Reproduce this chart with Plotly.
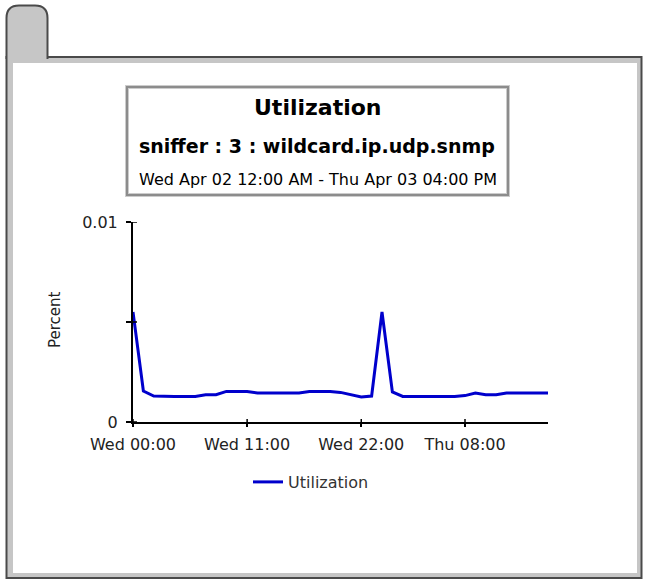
import plotly.graph_objects as go
import pandas as pd

# ---------------- data ----------------
times = pd.date_range("2003-04-02 00:00", periods=41, freq="h")
utilization = [
    0.0055, 0.00155, 0.0013, 0.00128, 0.00128, 0.00128, 0.00128, 0.00136,
    0.00136, 0.00153, 0.00153, 0.00153, 0.00145, 0.00145, 0.00145, 0.00145,
    0.00145, 0.00152, 0.00152, 0.00152, 0.00148, 0.00138, 0.00125, 0.0013,
    0.0055, 0.0015, 0.00128, 0.00128, 0.00128, 0.00128, 0.00128, 0.00128,
    0.00132, 0.00145, 0.00136, 0.00136, 0.00145, 0.00145, 0.00145, 0.00145,
    0.00145,
]
x_tickvals = ["2003-04-02 00:00", "2003-04-02 11:00", "2003-04-02 22:00", "2003-04-03 08:00"]
x_ticktext = ["Wed 00:00", "Wed 11:00", "Wed 22:00", "Thu 08:00"]
x_range = ["2003-04-02 00:00", "2003-04-03 16:00"]
y_tickvals = [0, 0.005, 0.01]
y_ticktext = ["0", "", "0.01"]
y_range = [0, 0.01]

title_main = "Utilization"
title_sub = "sniffer : 3 : wildcard.ip.udp.snmp"
title_period = "Wed Apr 02 12:00 AM - Thu Apr 03 04:00 PM"
y_title = "Percent"
series_name = "Utilization"

# ---------------- layout geometry ----------------
W, H = 645, 581
ML, MR, MT, MB = 133, 97, 222, 159
PW = W - ML - MR
PH = H - MT - MB


def px(x):
    return (x - ML) / PW


def py(y):
    return (H - MB - y) / PH


FONT = "DejaVu Sans"
LINE_BLUE = "#0000cc"

fig = go.Figure()
fig.add_trace(go.Scatter(
    x=times, y=utilization, mode="lines", name=series_name,
    line=dict(color=LINE_BLUE, width=3),
    showlegend=True,
))

shapes = []
# outer frame with grey band
shapes.append(dict(type="rect", xref="paper", yref="paper", layer="below",
                   x0=px(6.5), x1=px(641.5), y0=py(578), y1=py(57),
                   fillcolor="#c6c6c6", line=dict(color="#4a4a4a", width=2)))
shapes.append(dict(type="rect", xref="paper", yref="paper", layer="below",
                   x0=px(13), x1=px(637), y0=py(573), y1=py(63),
                   fillcolor="white", line=dict(width=0)))
# tab
tab_path = (f"M{px(6.5)},{py(59)} L{px(6.5)},{py(18)} "
            f"Q{px(6.5)},{py(5.5)} {px(19)},{py(5.5)} "
            f"L{px(35)},{py(5.5)} Q{px(47.5)},{py(5.5)} {px(47.5)},{py(18)} "
            f"L{px(47.5)},{py(59)}")
shapes.append(dict(type="path", xref="paper", yref="paper", layer="below",
                   path=tab_path, fillcolor="#c6c6c6",
                   line=dict(color="#4a4a4a", width=2)))
# title box
shapes.append(dict(type="rect", xref="paper", yref="paper", layer="below",
                   x0=px(127), x1=px(508), y0=py(195), y1=py(87),
                   fillcolor="white", line=dict(color="#cccccc", width=4)))
shapes.append(dict(type="rect", xref="paper", yref="paper", layer="below",
                   x0=px(127), x1=px(508), y0=py(195), y1=py(87),
                   fillcolor="rgba(0,0,0,0)", line=dict(color="#8c8c8c", width=2)))
# inside halves of the crossing ticks
for t in x_tickvals:
    shapes.append(dict(type="line", xref="x", yref="paper",
                       x0=t, x1=t, y0=0, y1=3 / PH,
                       line=dict(color="black", width=1.5)))
for v in y_tickvals:
    shapes.append(dict(type="line", xref="paper", yref="y",
                       x0=0, x1=4 / PW, y0=v, y1=v,
                       line=dict(color="black", width=1.5)))

annotations = [
    dict(text=title_main, xref="paper", yref="paper", x=px(318), y=py(107),
         xanchor="center", yanchor="middle", showarrow=False,
         font=dict(family=FONT, size=22, color="black", weight="bold")),
    dict(text=title_sub, xref="paper", yref="paper", x=px(317), y=py(146),
         xanchor="center", yanchor="middle", showarrow=False,
         font=dict(family=FONT, size=19, color="black", weight="bold")),
    dict(text=title_period, xref="paper", yref="paper", x=px(318), y=py(179.5),
         xanchor="center", yanchor="middle", showarrow=False,
         font=dict(family=FONT, size=16, color="black")),
    dict(text=y_title, xref="paper", yref="paper", x=px(55), y=py(320),
         xanchor="center", yanchor="middle", showarrow=False, textangle=-90,
         font=dict(family=FONT, size=15, color="#222222")),
]

fig.update_layout(
    width=W, height=H,
    margin=dict(l=ML, r=MR, t=MT, b=MB, pad=0),
    paper_bgcolor="white",
    plot_bgcolor="rgba(0,0,0,0)",
    shapes=shapes,
    annotations=annotations,
    showlegend=True,
    legend=dict(orientation="h", x=px(248), xanchor="left", y=py(482),
                yanchor="middle", bgcolor="rgba(0,0,0,0)",
                font=dict(family=FONT, size=16, color="#333333")),
    xaxis=dict(type="date", range=x_range, tickmode="array",
               tickvals=x_tickvals, ticktext=x_ticktext,
               showgrid=False, zeroline=False, showline=True,
               linecolor="black", linewidth=2,
               ticks="outside", ticklen=3, tickwidth=1.5, tickcolor="black",
               ticklabelstandoff=4,
               tickfont=dict(family=FONT, size=16, color="#222222")),
    yaxis=dict(range=y_range, tickmode="array",
               tickvals=y_tickvals, ticktext=y_ticktext,
               showgrid=False, zeroline=False, showline=True,
               linecolor="black", linewidth=2,
               ticks="outside", ticklen=5, tickwidth=1.5, tickcolor="black",
               ticklabelstandoff=5,
               tickfont=dict(family=FONT, size=16, color="#222222")),
)

fig.write_html("out.html",
               config={"displayModeBar": False},
               post_script="document.body.style.margin='0';document.body.style.overflow='hidden';")
